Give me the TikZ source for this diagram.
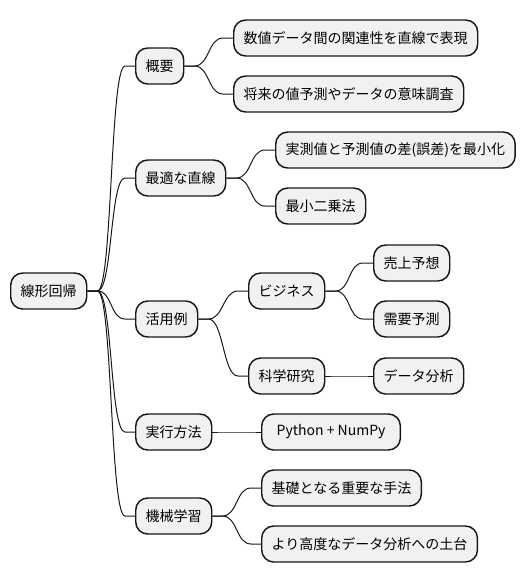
\documentclass[tikz,border=0pt]{standalone}
\usepackage{fontspec}
\newfontfamily\jpfont{Noto Sans CJK JP}
\usetikzlibrary{calc}
\definecolor{boxfill}{HTML}{F1F1F1}
\definecolor{boxline}{HTML}{181818}
\tikzset{topic/.style={draw=boxline, fill=boxfill, line width=1.1pt, rounded corners=9pt,
    minimum height=27pt, inner xsep=7.5pt, anchor=west, text=black,
    font=\jpfont\fontsize{10.5pt}{12pt}\selectfont},
  link/.style={draw=boxline, line width=0.75pt}}
\newcommand\branch[2]{\draw[link] (#1.east) -- ++(10,0) .. controls +(15,0) and +(-15,0) .. ($(#2.west)+(-10,0)$) -- (#2.west);}

\begin{document}
\begin{tikzpicture}[x=0.75pt, y=-0.75pt]
                    \useasboundingbox (0,0) rectangle (527,583);
                    %Root
                    \node[topic] (root) at (10,291) {線形回帰};
                    %First level
                    \node[topic] (gaiyo) at (135,66) {概要};
                    \node[topic] (saiteki) at (135,178) {最適な直線};
                    \node[topic] (katsuyo) at (135,319) {活用例};
                    \node[topic] (jikko) at (135,432) {実行方法};
                    \node[topic] (kikai) at (135,516) {機械学習};
                    %Second level
                    \node[topic] (kankei) at (233,38) {数値データ間の関連性を直線で表現};
                    \node[topic] (shorai) at (233,94) {将来の値予測やデータの意味調査};
                    \node[topic] (gosa) at (275,150) {実測値と予測値の差(誤差)を最小化};
                    \node[topic] (nijo) at (275,206) {最小二乗法};
                    \node[topic] (biz) at (248,291) {ビジネス};
                    \node[topic] (kagaku) at (248,376) {科学研究};
                    \node[topic, minimum width=104pt] (python) at (261,432) {Python + NumPy};
                    \node[topic] (kiso) at (261,488) {基礎となる重要な手法};
                    \node[topic] (dodai) at (261,544) {より高度なデータ分析への土台};
                    %Third level
                    \node[topic] (uriage) at (373,263) {売上予想};
                    \node[topic] (juyo) at (373,319) {需要予測};
                    \node[topic] (bunseki) at (373,376) {データ分析};
                    %Connectors
                    \foreach \c in {gaiyo, saiteki, katsuyo, jikko, kikai}
                        \branch{root}{\c};
                    \branch{gaiyo}{kankei};
                    \branch{gaiyo}{shorai};
                    \branch{saiteki}{gosa};
                    \branch{saiteki}{nijo};
                    \branch{katsuyo}{biz};
                    \branch{katsuyo}{kagaku};
                    \branch{biz}{uriage};
                    \branch{biz}{juyo};
                    \branch{kagaku}{bunseki};
                    \branch{jikko}{python};
                    \branch{kikai}{kiso};
                    \branch{kikai}{dodai};
                \end{tikzpicture}
\end{document}
